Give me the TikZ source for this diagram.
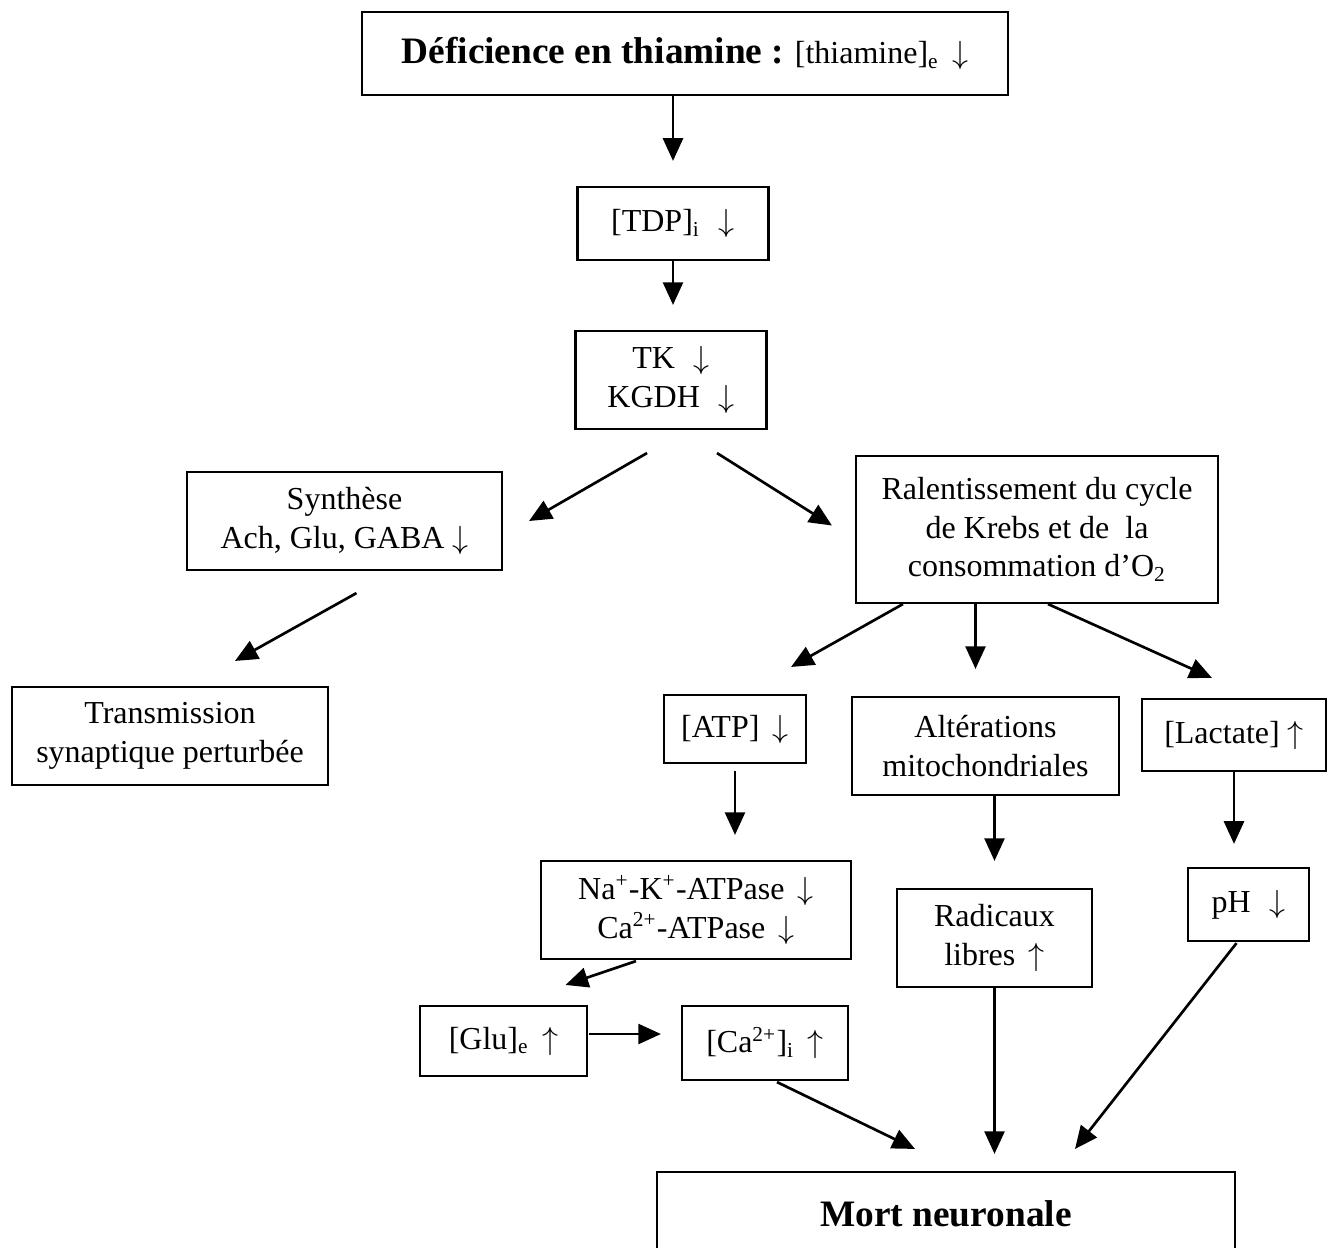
\documentclass[tikz,border=0pt]{standalone}
\usepackage{fontspec}
\setmainfont{Liberation Serif}
\usepackage{tikz}
\usetikzlibrary{arrows.meta,calc}
\newcommand{\fdown}{\,$\downarrow$}
\newcommand{\fup}{\,$\uparrow$}

\begin{document}
\begin{tikzpicture}[x=0.375pt,y=-0.375pt,
  box/.style={draw,line width=0.8pt,align=center,inner sep=0pt,
    font=\fontsize{12}{14.5}\selectfont},
  arr/.style={line width=1pt,-{Triangle[length=8.5pt,width=7.5pt]}}]
  \useasboundingbox (0,0) rectangle (1328,1247);
  % boxes, placed at their centres
  \node[box,minimum width=242pt,minimum height=31pt] (def) at (685,53.5)
    {{\bfseries\fontsize{14}{16}\selectfont Déficience en thiamine :} [thiamine]\textsubscript{e} \fdown};
  \node[box,minimum width=71.6pt,minimum height=27.4pt] (tdp) at (673,223.5) {[TDP]\textsubscript{i} \,\fdown};
  \node[box,minimum width=71.6pt,minimum height=36.75pt] (tk) at (671,380) {TK \,\fdown\\KGDH \,\fdown};
  \node[box,minimum width=118.1pt,minimum height=36.75pt] (syn) at (344.5,521) {Synthèse\\Ach, Glu, GABA $\downarrow$};
  \node[box,minimum width=135.75pt,minimum height=55.1pt] (ral) at (1037,529.5)
    {Ralentissement du cycle\\de Krebs et de~ la\\consommation d’O\textsubscript{2}};
  \node[box,minimum width=118.5pt,minimum height=36.75pt] (trans) at (170,736) {Transmission\\synaptique perturbée};
  \node[box,minimum width=53.25pt,minimum height=25.5pt] (atp) at (735,729) {[ATP] \fdown};
  \node[box,minimum width=100.1pt,minimum height=36.75pt] (alt) at (985.5,746) {Altérations\\mitochondriales};
  \node[box,minimum width=69pt,minimum height=27pt] (lac) at (1234,735) {[Lactate] $\uparrow$};
  \node[box,minimum width=116.25pt,minimum height=36.75pt] (na) at (696,910)
    {Na\textsuperscript{+}-K\textsuperscript{+}-ATPase \fdown\\Ca\textsuperscript{2+}-ATPase \fdown};
  \node[box,minimum width=73.1pt,minimum height=36.75pt] (rad) at (994.5,938) {Radicaux\\libres \fup};
  \node[box,minimum width=45.4pt,minimum height=27.4pt] (ph) at (1248.5,904.5) {pH \,\fdown};
  \node[box,minimum width=62.6pt,minimum height=26.25pt] (glu) at (503.5,1041) {[Glu]\textsubscript{e} \fup};
  \node[box,minimum width=62.25pt,minimum height=27.75pt] (ca) at (765,1043) {[Ca\textsuperscript{2+}]\textsubscript{i} \fup};
  \node[box,minimum width=216.75pt,minimum height=31.5pt] (mort) at (946,1214)
    {\bfseries\fontsize{14}{16}\selectfont Mort neuronale};
  % arrows
  \draw[arr] (def.south -| tdp.north) -- ($(tdp.north)+(0,-25)$);
  \draw[arr] (tdp.south) -- ($(tdp.south |- tk.north)+(0,-25)$);
  \draw[arr] ($(tk.south)+(-24,23)$) -- ($(syn.east)+(26,0)$);
  \draw[arr] ($(tk.south)+(46,23)$) -- ($(ral.west)+(-23,-4)$);
  \draw[arr] ($(syn.south)+(12,22)$) -- ($(trans.north)+(65,-25)$);
  \draw[arr] ($(ral.south west)+(48,0)$) -- ($(atp.north east)+(-16,-27)$);
  \draw[arr] ($(alt.north |- ral.south)+(-10,0)$) -- ($(alt.north)+(-10,-27)$);
  \draw[arr] ($(ral.south)+(11,0)$) -- ($(lac.north)+(-22,-20)$);
  \draw[arr] ($(atp.south)+(0,7)$) -- ($(atp.south |- na.north)+(0,-25)$);
  \draw[arr] (alt.south -| rad.north) -- ($(rad.north)+(0,-27)$);
  \draw[arr] (lac.south) -- ($(lac.south |- ph.north)+(0,-23)$);
  \draw[arr] ($(na.south)+(-60,1)$) -- ($(glu.north)+(62,-20)$);
  \draw[arr] ($(glu.east)+(1,-7)$) -- ($(glu.east -| ca.west)+(-20,-7)$);
  \draw[arr] ($(ca.south)+(12,1)$) -- ($(mort.north)+(-31,-22)$);
  \draw[arr] (rad.south) -- ($(rad.south |- mort.north)+(0,-17)$);
  \draw[arr] ($(ph.south)+(-12,1)$) -- ($(mort.north)+(129,-22)$);
\end{tikzpicture}
\end{document}
